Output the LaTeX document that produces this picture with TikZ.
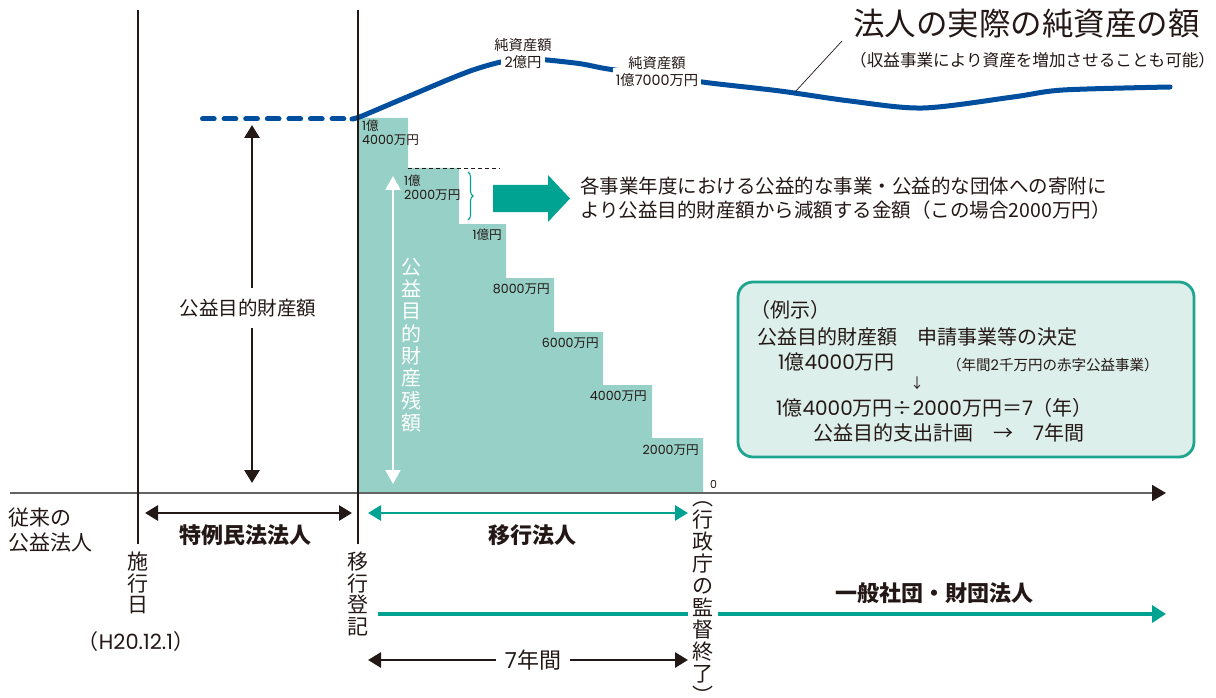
\documentclass[tikz,border=0pt]{standalone}
\usepackage{fontspec}
\setmainfont{Noto Sans CJK JP}
\newfontfamily\numfont{Poppins}
\newcommand\nm[1]{{\numfont #1}}
\newcommand\fsz[2]{\fontsize{#1}{#2}\selectfont}
\usetikzlibrary{arrows.meta,decorations.pathreplacing}

\definecolor{stepteal}{RGB}{150,208,198}
\definecolor{arrteal}{RGB}{0,163,145}
\definecolor{netblue}{RGB}{0,78,158}
\definecolor{boxfill}{RGB}{221,239,235}
\definecolor{boxline}{RGB}{30,165,143}
\definecolor{ink}{RGB}{35,24,21}
\definecolor{axisgray}{RGB}{100,100,100}

\begin{document}
\begin{tikzpicture}[x=1pt,y=-1pt,
	every node/.style={text=ink},
	vline/.style={draw=ink,line width=1.1pt},
	blkarrow/.style={draw=ink,line width=2.8pt,{Triangle[length=13pt,width=15pt]}-{Triangle[length=13pt,width=15pt]}},
	blktip/.style={draw=ink,line width=2.8pt,-{Triangle[length=13pt,width=15pt]}},
	tealarrow/.style={draw=arrteal,line width=2.8pt,{Triangle[length=13pt,width=15pt]}-{Triangle[length=13pt,width=15pt]}},
	netline/.style={draw=netblue,line width=5pt,line cap=round},
	steplabel/.style={font=\fsz{12.6}{14},inner sep=0pt},
	vtext/.style={align=center,inner xsep=0pt},
	heading/.style={font=\fsz{22}{26}\bfseries,inner sep=0pt}]

	\useasboundingbox (0,0) rectangle (1216,698);

	% remaining public-purpose assets, one step per year
	\fill[stepteal] (358,493) -- (358,118) -- (408,118) -- (408,168) -- (459,168) -- (459,224)
		-- (506,224) -- (506,278) -- (554,278) -- (554,332) -- (603,332) -- (603,385)
		-- (652,385) -- (652,438) -- (703,438) -- (703,493) -- cycle;
	\coordinate (dA) at (408,168);
	\coordinate (dB) at (500,168);
	\draw[ink, line width=0.8pt, dash pattern=on 4pt off 3pt] (dA) -- (dB);

	\node[steplabel, anchor=north west, align=left] (s1) at (362,120) {\nm{1}億\\\nm{4000}万円};
	\node[steplabel, anchor=north west, align=left] (s2) at (404,175) {\nm{1}億\\\nm{2000}万円};
	\node[steplabel, anchor=east] (s3) at (502,235) {\nm{1}億円};
	\node[steplabel, anchor=east] (s4) at (550,289) {\nm{8000}万円};
	\node[steplabel, anchor=east] (s5) at (599,343) {\nm{6000}万円};
	\node[steplabel, anchor=east] (s6) at (647,396) {\nm{4000}万円};
	\node[steplabel, anchor=east] (s7) at (699,450) {\nm{2000}万円};
	\node[steplabel, anchor=west, font=\fsz{11}{12}] (s0) at (710,484) {\nm{0}};

	% white arrow inside the steps
	\coordinate (wA) at (393,176);
	\coordinate (wB) at (393,484);
	\draw[white, line width=2pt, {Triangle[length=14pt,width=15pt]}-{Triangle[length=14pt,width=15pt]}] (wA) -- (wB);
	\node[vtext, text=white, font=\fsz{20}{22.3}] (zanga) at (411,345) {公\\益\\目\\的\\財\\産\\残\\額};

	% yearly reduction
	\coordinate (brA) at (468,172);
	\coordinate (brB) at (468,220);
	\draw[arrteal, line width=1.1pt, decorate, decoration={brace, amplitude=5pt}] (brA) -- (brB);
	\fill[arrteal] (493,185) -- (548,185) -- (548,175) -- (570,198.5) -- (548,222) -- (548,212) -- (493,212) -- cycle;
	\node[anchor=west, align=left, font=\fsz{19.5}{24}, inner sep=0pt] (genga) at (580,198)
		{各事業年度における公益的な事業・公益的な団体への寄附に\\より公益目的財産額から減額する金額（この場合2000万円）};

	% actual net assets
	\coordinate (dashA) at (202.5,119);
	\coordinate (dashB) at (344.5,119);
	\draw[netline, dash pattern=on 11.7pt off 9.9pt] (dashA) -- (dashB);
	\draw[netline] plot[smooth] coordinates {(352,119) (362,116) (407,97) (473,70) (520,59) (575,63)
		(608,69) (660,76) (710,83) (780,91) (850,101) (923,108) (1013,97) (1063,90) (1170,87)};
	\node[fill=white, inner xsep=4pt, inner ysep=2pt, font=\fsz{14.3}{16}] (junA) at (523,62) {\nm{2}億円};
	\node[anchor=south, inner sep=1pt, font=\fsz{14.3}{16}] (junAt) at (junA.north) {純資産額};
	\node[fill=white, inner xsep=3pt, inner ysep=5pt, font=\fsz{14.3}{16}] (junB) at (657,80) {\nm{1}億\nm{7000}万円};
	\node[anchor=south, inner sep=1pt, font=\fsz{14.3}{16}, yshift=-3pt] (junBt) at (junB.north) {純資産額};

	\node[anchor=west, inner sep=0pt, font=\fsz{31.5}{34}] (title) at (853,24) {法人の実際の純資産の額};
	\node[anchor=west, inner sep=0pt, font=\fsz{16.6}{19}] (subtitle) at (850,60) {（収益事業により資産を増加させることも可能）};
	\coordinate (leadA) at (795,92);
	\coordinate (leadB) at (842,41);
	\draw[ink, line width=0.7pt] (leadA) -- (leadB);

	% public-purpose assets
	\node[font=\fsz{19.5}{22}, inner xsep=0pt, inner ysep=11pt] (zaisan) at (248,308) {公益目的財産額};
	\coordinate (kA) at (252,125);
	\coordinate (kB) at (252,483);
	\draw[blktip] (zaisan.north -| kA) -- (kA);
	\draw[blktip] (zaisan.south -| kB) -- (kB);

	% time axis
	\coordinate (axA) at (10,493);
	\coordinate (axB) at (1166,493);
	\draw[axisgray, line width=1.8pt, -{Triangle[length=14pt,width=16pt,color=ink]}] (axA) -- (axB);

	\node[vtext, font=\fsz{21}{21.5}, anchor=north, inner ysep=8pt] (sekou) at (138,544) {施\\行\\日};
	\node[font=\fsz{21}{22}] (hizuke) at (136,642) {（\nm{H20.12.1}）};
	\node[vtext, font=\fsz{21}{21.5}, anchor=north, inner ysep=8pt] (touki) at (358,544) {移\\行\\登\\記};
	\coordinate (sekoutop) at (138,10);
	\coordinate (toukitop) at (358,10);
	\draw[vline] (sekoutop) -- (sekou.north);
	\draw[vline] (toukitop) -- (touki.north);

	\node[anchor=west, align=left, font=\fsz{21}{25}, inner sep=0pt] (juurai) at (8,530) {従来の\\公益法人};

	\coordinate (tA) at (145,513);
	\coordinate (tB) at (352,513);
	\draw[blkarrow] (tA) -- (tB);
	\node[heading] (tokurei) at (245,535) {特例民法法人};

	\coordinate (iA) at (368,513);
	\coordinate (iB) at (688,513);
	\draw[tealarrow] (iA) -- (iB);
	\node[heading] (ikou) at (532,535) {移行法人};

	\node[vtext, font=\fsz{21}{22}, anchor=north, inner xsep=4pt, inner ysep=0pt] (gyosei) at (703,501)
		{︵\\行\\政\\庁\\の\\監\\督\\終\\了\\︶};

	\coordinate (gA) at (378,614);
	\coordinate (gB) at (1166,614);
	\draw[arrteal, line width=4.5pt] (gA) -- (gA -| gyosei.west);
	\draw[arrteal, line width=4.5pt, -{Triangle[length=14pt,width=17pt]}] (gA -| gyosei.east) -- (gB);
	\node[heading] (ippan) at (934,593) {一般社団・財団法人};

	\node[font=\fsz{22}{24}, inner xsep=9pt] (nenkan) at (533,660) {\nm{7}年間};
	\coordinate (nA) at (368,660);
	\coordinate (nB) at (688,660);
	\draw[blktip] (nenkan.west) -- (nA);
	\draw[blktip] (nenkan.east) -- (nB);

	% example box
	\coordinate (bxA) at (738,282);
	\coordinate (bxB) at (1194,457);
	\draw[boxline, fill=boxfill, line width=2.8pt, rounded corners=15pt] (bxA) rectangle (bxB);
	\node[anchor=west, inner sep=0pt, font=\fsz{20}{24}] (reiji) at (750,310) {（例示）};
	\node[anchor=west, inner sep=0pt, font=\fsz{20}{24}] (kettei) at (757,337) {公益目的財産額　申請事業等の決定};
	\node[anchor=west, inner sep=0pt, font=\fsz{20}{24}] (gaku) at (778,362) {\nm{1}億\nm{4000}万円};
	\node[anchor=west, inner sep=0pt, font=\fsz{14.5}{17}] (akaji) at (947,365) {（年間\nm{2}千万円の赤字公益事業）};
	\node[inner sep=0pt, font=\fsz{14}{16}] (yaji) at (917,383) {↓};
	\node[anchor=west, inner sep=0pt, font=\fsz{20}{24}] (keisan) at (776,408) {\nm{1}億\nm{4000}万円÷\nm{2000}万円＝\nm{7}（年）};
	\node[anchor=west, inner sep=0pt, font=\fsz{20}{24}] (keikaku) at (813,433) {公益目的支出計画　→　\nm{7}年間};

\end{tikzpicture}
\end{document}
